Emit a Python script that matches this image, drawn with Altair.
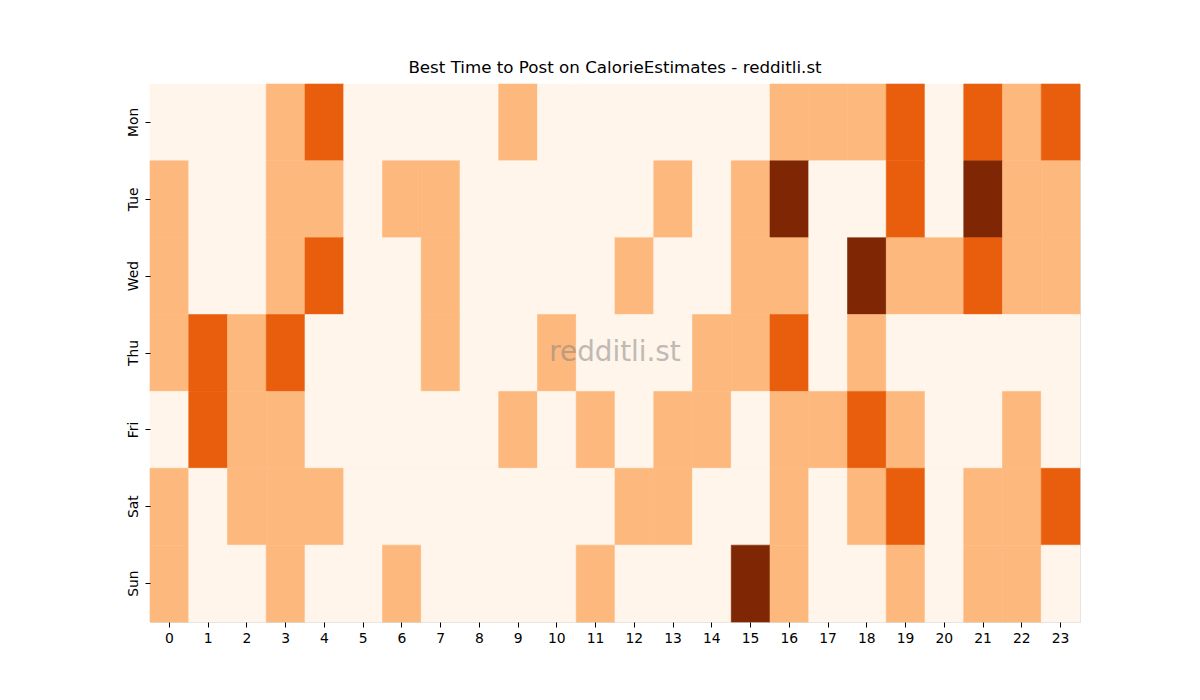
import altair as alt
import pandas as pd

days = ["Mon", "Tue", "Wed", "Thu", "Fri", "Sat", "Sun"]
hours = [str(h) for h in range(24)]

mon = [0,0,0,1,2,0,0,0,0,1,0,0,0,0,0,0,1,1,1,2,0,2,1,2]
tue = [1,0,0,1,1,0,1,1,0,0,0,0,0,1,0,1,3,0,0,2,0,3,1,1]
wed = [1,0,0,1,2,0,0,1,0,0,0,0,1,0,0,1,1,0,3,1,1,2,1,1]
thu = [1,2,1,2,0,0,0,1,0,0,1,0,0,0,1,1,2,0,1,0,0,0,0,0]
fri = [0,2,1,1,0,0,0,0,0,1,0,1,0,1,1,0,1,1,2,1,0,0,1,0]
sat = [1,0,1,1,1,0,0,0,0,0,0,0,1,1,0,0,1,0,1,2,0,1,1,2]
sun = [1,0,0,1,0,0,1,0,0,0,0,1,0,0,0,3,1,0,0,1,0,1,1,0]

rows = [mon, tue, wed, thu, fri, sat, sun]
records = []
for d, vals in zip(days, rows):
    for h, v in zip(hours, vals):
        records.append({"day": d, "hour": h, "value": v})
df = pd.DataFrame(records)

colors = ["#fff5eb", "#fdb97d", "#e95e0d", "#7f2704"]
cscale = alt.Scale(domain=[0, 1, 2, 3], range=colors)

heat = alt.Chart(df).mark_rect(strokeWidth=0.6, opacity=1, fillOpacity=1, strokeOpacity=1).encode(
    x=alt.X("hour:N", sort=hours, title=None,
            scale=alt.Scale(paddingInner=0, paddingOuter=0),
            axis=alt.Axis(labelAngle=0, domain=False, tickSize=5, tickColor="black",
                          labelFontSize=13.9, labelColor="black", labelFont="DejaVu Sans",
                          labelPadding=4, grid=False)),
    y=alt.Y("day:N", sort=days, title=None,
            scale=alt.Scale(paddingInner=0, paddingOuter=0),
            axis=alt.Axis(labelAngle=270, labelAlign="center", labelBaseline="bottom",
                          domain=False, tickSize=5, tickColor="black",
                          labelFontSize=13.9, labelColor="black", labelFont="DejaVu Sans",
                          labelPadding=5, grid=False)),
    color=alt.Color("value:O", scale=cscale, legend=None),
    stroke=alt.Stroke("value:O", scale=cscale, legend=None),
)

wm = alt.Chart(pd.DataFrame({"t": ["redditli.st"]})).mark_text(
    font="DejaVu Sans", fontSize=27.8, color="gray", opacity=0.5,
    align="center", baseline="middle"
).encode(text="t:N", x=alt.value(465), y=alt.value(269))

chart = alt.layer(heat, wm).properties(
    width=930, height=538,
    title=alt.TitleParams("Best Time to Post on CalorieEstimates - redditli.st",
                          font="DejaVu Sans", fontSize=16.7, fontWeight="normal",
                          color="black", anchor="middle", offset=7),
    autosize=alt.AutoSizeParams(type="none"),
    padding={"left": 142, "top": 76, "right": 112, "bottom": 70},
).configure_view(stroke=None).configure(background="white")

chart.save("out.html", embed_options={"renderer": "svg", "actions": False})
